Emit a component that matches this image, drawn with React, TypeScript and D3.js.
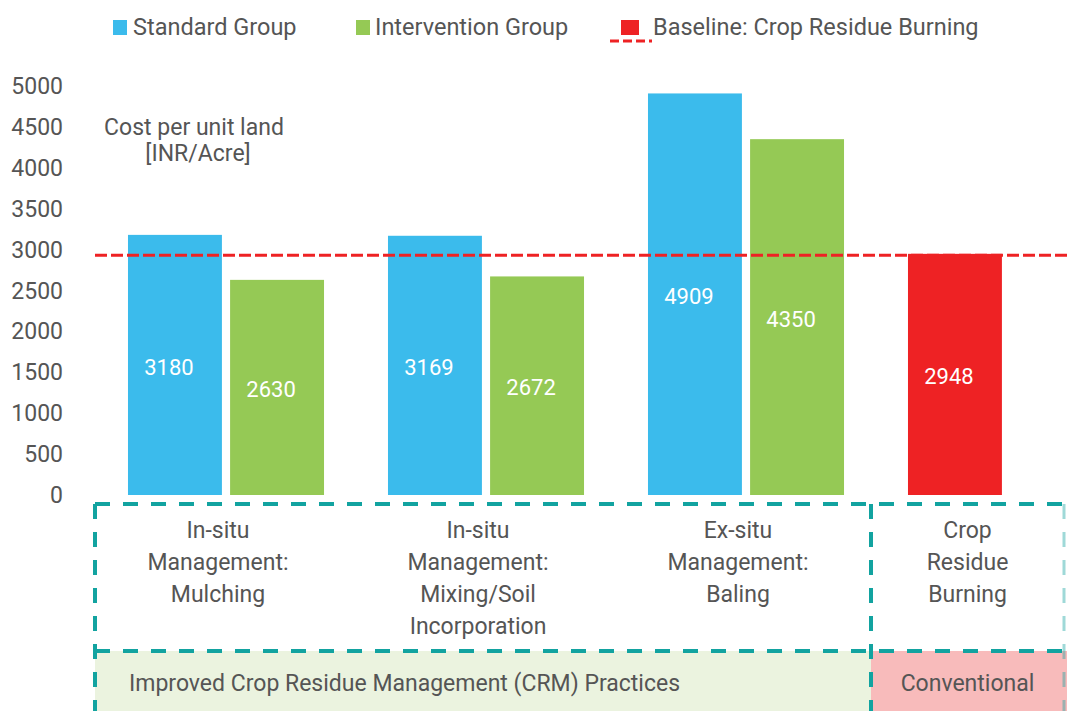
import React from "react";
import * as d3 from "d3";

const categories: string[][] = [
  ["In-situ", "Management:", "Mulching"],
  ["In-situ", "Management:", "Mixing/Soil", "Incorporation"],
  ["Ex-situ", "Management:", "Baling"],
  ["Crop", "Residue", "Burning"],
];
const standardGroup: (number | null)[] = [3180, 3169, 4909, null];
const interventionGroup: (number | null)[] = [2630, 2672, 4350, null];
const burningGroup: (number | null)[] = [null, null, null, 2948];
const baselineValue = 2948;
const yTicks = [0, 500, 1000, 1500, 2000, 2500, 3000, 3500, 4000, 4500, 5000];
const legendLabels = ["Standard Group", "Intervention Group", "Baseline: Crop Residue Burning"];
const groupLabels = ["Improved Crop Residue Management (CRM) Practices", "Conventional"];
const yTitle = ["Cost per unit land", "[INR/Acre]"];

const BLUE = "#3BBBEC";
const GREEN = "#95C955";
const RED = "#EE2224";
const TEAL = "#12A3A0";
const TEXT = "#555555";
const FONT = "Roboto, 'Open Sans', sans-serif";

export default function App() {
  const W = 1067;
  const H = 711;
  const y = d3.scaleLinear().domain([0, 5000]).range([495, 86]);
  const x = d3
    .scaleBand<number>()
    .domain(categories.map((_, i) => i))
    .range([96, 1136])
    .paddingInner(0.246)
    .paddingOuter(0.123);
  const sub = d3.scaleBand<number>().domain([0, 1]).range([0, x.bandwidth()]).paddingInner(0.08);

  const boxTop = 504;
  const boxMid = 651;
  const boxLeft = 95;
  const boxDiv = 871;
  const boxRight = 1064;

  const bars: { x: number; w: number; v: number; c: string }[] = [];
  categories.forEach((_, i) => {
    const x0 = x(i)!;
    const s = standardGroup[i];
    const iv = interventionGroup[i];
    const b = burningGroup[i];
    if (s != null) bars.push({ x: x0 + sub(0)!, w: sub.bandwidth(), v: s, c: BLUE });
    if (iv != null) bars.push({ x: x0 + sub(1)!, w: sub.bandwidth(), v: iv, c: GREEN });
    if (b != null) bars.push({ x: x0 + sub(0)!, w: sub.bandwidth(), v: b, c: RED });
  });

  const tealDash = "15 13";
  const fs = 23;
  return (
    <svg
      width={W}
      height={H}
      style={{ position: "absolute", left: 0, top: 0, background: "#fff" }}
      fontFamily={FONT}
    >
      {/* legend */}
      <rect x={113} y={20} width={14} height={15} fill={BLUE} />
      <text x={133} y={35} fontSize={23.5} fill={TEXT}>{legendLabels[0]}</text>
      <rect x={356} y={20} width={14} height={15} fill={GREEN} />
      <text x={375} y={35} fontSize={23.5} fill={TEXT}>{legendLabels[1]}</text>
      <rect x={621} y={20} width={18} height={15} fill={RED} />
      <line x1={610} x2={652} y1={41} y2={41} stroke={RED} strokeWidth={3} strokeDasharray="9 4" />
      <text x={653} y={35} fontSize={23.5} fill={TEXT}>{legendLabels[2]}</text>

      {/* y tick labels */}
      {yTicks.map((t) => (
        <text key={t} x={63} y={y(t)} dy="0.35em" textAnchor="end" fontSize={fs} fill={TEXT}>
          {t}
        </text>
      ))}

      {/* y title */}
      <text x={194} y={127} dy="0.35em" textAnchor="middle" fontSize={fs} fill={TEXT}>{yTitle[0]}</text>
      <text x={198} y={153} dy="0.35em" textAnchor="middle" fontSize={fs} fill={TEXT}>{yTitle[1]}</text>

      {/* group background fills */}
      <rect x={boxLeft} y={boxMid} width={boxDiv - boxLeft} height={H - boxMid} fill="#EBF3DF" />
      <rect x={boxDiv} y={boxMid} width={W - boxDiv} height={H - boxMid} fill="#F8BBBB" />

      {/* bars */}
      {bars.map((b, i) => (
        <g key={i}>
          <rect x={b.x} y={y(b.v)} width={b.w} height={y(0) - y(b.v)} fill={b.c} />
          <text
            x={b.x + b.w / 2 - 6}
            y={(y(b.v) + y(0)) / 2 + 2}
            dy="0.35em"
            textAnchor="middle"
            fontSize={22}
            fill="#fff"
          >
            {b.v}
          </text>
        </g>
      ))}

      {/* baseline */}
      <line x1={95} x2={W} y1={y(baselineValue) + 1.5} y2={y(baselineValue) + 1.5} stroke={RED} strokeWidth={3} strokeDasharray="12 4" />

      {/* category dashed boxes */}
      <line x1={boxLeft} x2={W} y1={boxTop} y2={boxTop} stroke={TEAL} strokeWidth={4} strokeDasharray={tealDash} />
      <line x1={boxLeft} x2={W} y1={boxMid} y2={boxMid} stroke={TEAL} strokeWidth={4} strokeDasharray={tealDash} />
      <line x1={boxLeft} x2={boxLeft} y1={boxTop} y2={H} stroke={TEAL} strokeWidth={4} strokeDasharray={tealDash} />
      <line x1={boxDiv} x2={boxDiv} y1={boxTop} y2={H} stroke={TEAL} strokeWidth={4} strokeDasharray={tealDash} />
      <line x1={boxRight} x2={boxRight} y1={boxTop} y2={H} stroke={TEAL} strokeWidth={3} strokeDasharray={tealDash} opacity={0.4} />

      {/* category labels */}
      {categories.map((lines, i) => {
        const cx = i < 3 ? x(i)! + x.bandwidth() / 2 - 8 : (boxDiv + boxRight) / 2;
        return (
          <text key={i} textAnchor="middle" fontSize={fs} fill={TEXT}>
            {lines.map((l, j) => (
              <tspan key={j} x={cx} y={530 + j * 32} dy="0.35em">
                {l}
              </tspan>
            ))}
          </text>
        );
      })}

      {/* group labels */}
      <text x={129} y={683} dy="0.35em" fontSize={fs} fill={TEXT}>{groupLabels[0]}</text>
      <text x={(boxDiv + boxRight) / 2} y={683} dy="0.35em" textAnchor="middle" fontSize={fs} fill={TEXT}>
        {groupLabels[1]}
      </text>
    </svg>
  );
}
